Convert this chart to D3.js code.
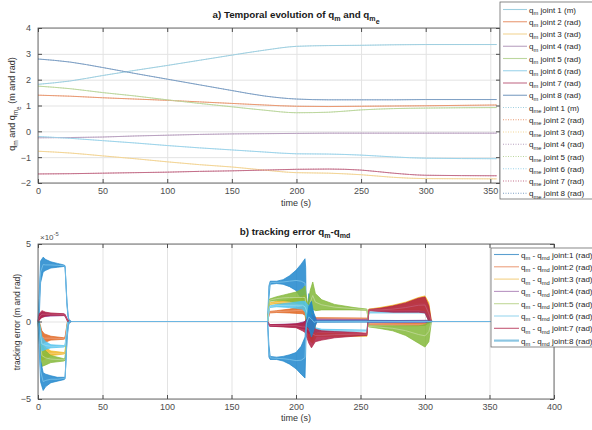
<!DOCTYPE html>
<html>
<head>
<meta charset="utf-8">
<script src="https://cdnjs.cloudflare.com/ajax/libs/d3/7.8.5/d3.min.js"></script>
<style>
  body { margin: 0; background: #fff; }
  svg { font-family: "Liberation Sans", Arial, sans-serif; }
  .tick text { fill: #4d4d4d; font-size: 9px; }
  .domain { stroke: none; }
  .tick line { stroke: #4d4d4d; }
  .grid .tick line { stroke: #e3e3e3; }
  .grid text { display: none; }
</style>
</head>
<body>
<svg width="592" height="430"></svg>
<script>
/* global d3 */

// ---- a) joint positions (q_m); q_me follows q_m closely, so it reuses them
var timeA = [0, 25, 50, 75, 100, 125, 150, 175, 200, 225, 250, 275, 300, 355];
var qm1 = [1.82, 1.95, 2.16, 2.36, 2.55, 2.75, 2.95, 3.14, 3.29, 3.32, 3.33, 3.35, 3.36, 3.36];
var qm2 = [1.4, 1.36, 1.3, 1.25, 1.2, 1.14, 1.08, 1.02, 0.97, 0.96, 0.97, 0.98, 0.99, 1.02];
var qm3 = [-0.77, -0.84, -0.95, -1.06, -1.18, -1.29, -1.38, -1.5, -1.6, -1.62, -1.68, -1.78, -1.83, -1.84];
var qm4 = [-0.25, -0.24, -0.22, -0.18, -0.15, -0.12, -0.1, -0.09, -0.08, -0.07, -0.07, -0.07, -0.07, -0.07];
var qm5 = [1.75, 1.65, 1.5, 1.37, 1.22, 1.08, 0.95, 0.82, 0.72, 0.74, 0.83, 0.88, 0.9, 0.92];
var qm6 = [-0.2, -0.27, -0.36, -0.45, -0.55, -0.64, -0.72, -0.8, -0.87, -0.88, -0.92, -0.99, -1.04, -1.06];
var qm7 = [-1.65, -1.64, -1.62, -1.6, -1.58, -1.55, -1.53, -1.5, -1.47, -1.46, -1.5, -1.62, -1.7, -1.72];
var qm8 = [2.8, 2.68, 2.47, 2.24, 2.02, 1.8, 1.58, 1.37, 1.25, 1.22, 1.22, 1.22, 1.23, 1.23];
var qmAll = [qm1, qm2, qm3, qm4, qm5, qm6, qm7, qm8];
var qmeAll = qmAll;
var legendA = ["joint 1 (m)", "joint 2 (rad)", "joint 3 (rad)", "joint 4 (rad)",
  "joint 5 (rad)", "joint 6 (rad)", "joint 7 (rad)", "joint 8 (rad)"];
var paleColors = ["#9fcfe0", "#e99a74", "#f3d596", "#b9a1c0", "#bcd79e", "#9dd4ea", "#c4708a", "#7d9fc4"];

// ---- b) tracking error envelopes [t, low, high], in units of 1e-5
var err1 = [[0, 0, 0], [0.8, 0, 1.5], [2, 2.5, 3.9], [4, 3.2, 4.15], [6, 3.3, 4.0], [10, 3.45, 3.85], [15, 3.5, 3.75],
  [20, 3.55, 3.65], [21, 3.5, 3.6], [22.5, 1.0, 1.2], [23.5, 0.1, 0.3], [24.5, -0.1, 0], [26, 0, 0], [178, 0, 0],
  [179, 1.5, 2.3], [180, 2.4, 2.6], [185, 2.45, 2.6], [190, 2.4, 2.7], [195, 2.25, 2.95], [200, 2.0, 3.3],
  [204, 1.5, 3.7], [207, 0.9, 4.05], [207.5, 0.3, 3.5], [208, 0, 0.3], [210, -0.8, 1.8], [212, -1.2, 1.0],
  [214, -0.5, 0.5], [216, 0, 0.1], [305, 0, 0.05], [306, 0, 0], [356, 0, 0]];
var err2 = [[0, 0, 0], [1, -0.5, 0], [3, -1.4, -0.6], [5, -1.35, -0.8], [10, -1.2, -0.95], [20, -1.15, -1.05],
  [21, -1.1, -1.0], [23, -0.1, 0.1], [25, 0, 0], [178, 0, 0], [179.5, 0.55, 0.65], [185, 0.58, 0.7],
  [195, 0.55, 0.8], [205, 0.5, 0.95], [207, 0.4, 1.0], [210, -1.0, 0.5], [213, -1.2, 0.3], [216, 0.15, 0.25],
  [255, 0.15, 0.22], [256.5, -0.22, -0.15], [300, -0.25, -0.12], [303, -0.1, 0], [305, 0, 0], [356, 0, 0]];
var err3 = [[0, 0, 0], [1, -1, 0], [3, -2.5, -1.3], [6, -2.4, -1.7], [10, -2.2, -1.9], [20, -2.1, -2.0],
  [21, -2.05, -1.95], [23, -0.2, 0], [25, 0, 0], [178, 0, 0], [179.5, 1.1, 1.2], [185, 1.15, 1.3],
  [195, 1.1, 1.4], [205, 1.0, 1.6], [207, 0.8, 1.7], [210, -1.2, 0.8], [213, -1.4, 0.5], [216, -0.95, -0.75],
  [255, -0.95, -0.85], [256.5, 0.75, 0.8], [265, 0.75, 0.9], [275, 0.75, 1.05], [285, 0.75, 1.25],
  [295, 0.75, 1.55], [300, 0.7, 1.65], [303, 0, 1.2], [305, 0, 0], [356, 0, 0]];
var err4 = [[0, 0, 0], [1, 0.1, 0.4], [3, 0.3, 0.6], [10, 0.35, 0.5], [20, 0.38, 0.48], [21, 0.35, 0.45],
  [23, 0, 0.05], [25, 0, 0], [178, 0, 0], [179.5, -0.3, -0.2], [200, -0.35, -0.15], [207, -0.5, 0],
  [210, -0.8, 0.5], [213, -0.6, 0.4], [216, 0.05, 0.15], [255, 0.05, 0.12], [256.5, -0.05, 0.05],
  [303, -0.05, 0.08], [305, 0, 0], [356, 0, 0]];
var err5 = [[0, 0, 0], [1, -1.2, 0], [3, -2.9, -1.5], [6, -2.8, -1.9], [10, -2.65, -2.2], [20, -2.55, -2.4],
  [21, -2.5, -2.35], [23, -0.2, 0.1], [25, 0, 0], [178, 0, 0], [179.5, 1.3, 1.45], [185, 1.35, 1.6],
  [190, 1.35, 1.7], [195, 1.3, 1.8], [200, 1.2, 1.9], [205, 1.0, 2.1], [207, 0.8, 2.3], [209, -0.5, 1.0],
  [211, 0.5, 2.0], [213, 0.8, 2.55], [215, 0.7, 1.8], [220, 0.75, 1.4], [230, 0.75, 1.1], [245, 0.75, 0.9],
  [255, 0.72, 0.8], [256.5, -0.35, -0.28], [265, -0.45, -0.28], [275, -0.6, -0.28], [285, -0.9, -0.28],
  [295, -1.4, -0.28], [300, -1.65, -0.2], [303, -1.3, 0], [305, 0, 0], [356, 0, 0]];
var err6 = [[0, 0, 0], [1, -0.8, 0], [3, -1.9, -1.0], [6, -1.8, -1.3], [10, -1.7, -1.5], [20, -1.65, -1.55],
  [21, -1.6, -1.5], [23, -0.2, 0], [25, 0, 0], [178, 0, 0], [179.5, 0.9, 1.0], [185, 0.95, 1.1],
  [195, 0.9, 1.2], [205, 0.8, 1.3], [207, 0.6, 1.3], [210, -0.5, 1.0], [212, -0.8, 0.3], [215, -0.7, -0.4],
  [220, -0.65, -0.5], [255, -0.62, -0.55], [256.5, 0.55, 0.62], [300, 0.55, 0.65], [303, 0, 0.3],
  [305, 0, 0], [356, 0, 0]];
var err7 = [[0, 0, 0], [1, 0.1, 0.5], [3, 0.25, 0.7], [6, 0.35, 0.6], [10, 0.4, 0.55], [20, 0.4, 0.5],
  [21, 0.35, 0.45], [23, 0, 0.1], [25, 0, 0], [178, 0, 0], [179.5, -0.3, -0.2], [190, -0.35, -0.2],
  [200, -0.4, -0.15], [205, -0.6, -0.1], [207, -0.7, 0], [210, -1.4, 0.3], [212, -1.7, 0.2], [215, -1.3, -0.5],
  [220, -1.2, -0.6], [230, -1.05, -0.65], [245, -0.95, -0.7], [255, -0.9, -0.75], [256.5, 0.7, 0.78],
  [265, 0.65, 0.85], [275, 0.6, 1.0], [285, 0.6, 1.2], [295, 0.6, 1.5], [300, 0.55, 1.58], [303, 0, 1.0],
  [305, 0, 0], [356, 0, 0]];
var err8 = [[0, 0, 0], [0.8, -1.5, 0], [2, -3.9, -2.5], [4, -4.45, -3.3], [6, -4.2, -3.4], [10, -3.95, -3.5],
  [15, -3.85, -3.6], [20, -3.75, -3.6], [21, -3.7, -3.6], [22.5, -1.2, -1.0], [23.5, -0.3, -0.1],
  [24.5, 0, 0.1], [26, 0, 0], [178, 0, 0], [179, -2.3, -1.5], [180, -2.45, -2.25], [185, -2.45, -2.3],
  [190, -2.55, -2.25], [195, -2.75, -2.15], [200, -3.05, -2.0], [204, -3.4, -1.6], [207, -3.65, -1.0],
  [208, -0.3, 0], [210, -0.4, 1.0], [212, -1.0, 1.3], [214, -0.5, 0.4], [216, -0.05, 0.05], [305, -0.03, 0.03],
  [306, 0, 0], [356, 0, 0]];
var errAll = [err1, err2, err3, err4, err5, err6, err7, err8];
var errColors = ["#1f86cc", "#e0651f", "#f0b41c", "#8a3a9a", "#84b83a", "#4fc3ef", "#b01f44", "#1f86cc"];
var errLegendColors = ["#5b9fd0", "#eca07e", "#f3d185", "#b995c2", "#c2d89a", "#9bd7ef", "#c45a76", "#8cc6e2"];

var svg = d3.select("svg");

function rich(sel, parts, fs) {
  var cur = 0;
  parts.forEach(function(p) {
    var off = p[1] === 1 ? fs * 0.3 : p[1] === 2 ? fs * 0.62 : p[1] === -1 ? -fs * 0.45 : 0;
    sel.append("tspan")
      .attr("dy", off - cur)
      .style("font-size", (p[1] ? fs * 0.72 : fs) + "px")
      .text(p[0]);
    cur = off;
  });
}

function frame(x, y, xTicks, yTicks) {
  var x0 = x.range()[0], x1 = x.range()[1], y0 = y.range()[0], y1 = y.range()[1];
  svg.append("g").attr("class", "grid")
    .attr("transform", "translate(0," + y0 + ")")
    .call(d3.axisBottom(x).tickValues(xTicks).tickSize(-(y0 - y1)));
  svg.append("g").attr("class", "grid")
    .attr("transform", "translate(" + x0 + ",0)")
    .call(d3.axisLeft(y).tickValues(yTicks).tickSize(-(x1 - x0)));
}

function axes(x, y, xTicks, yTicks, yFmt) {
  var x0 = x.range()[0], x1 = x.range()[1], y0 = y.range()[0], y1 = y.range()[1];
  svg.append("g").attr("transform", "translate(0," + y0 + ")")
    .call(d3.axisBottom(x).tickValues(xTicks).tickSize(-4).tickPadding(5));
  svg.append("g").attr("transform", "translate(0," + y1 + ")")
    .call(d3.axisTop(x).tickValues(xTicks).tickSize(-4).tickFormat(""));
  svg.append("g").attr("transform", "translate(" + x0 + ",0)")
    .call(d3.axisLeft(y).tickValues(yTicks).tickSize(-4).tickPadding(7).tickFormat(yFmt));
  svg.append("g").attr("transform", "translate(" + x1 + ",0)")
    .call(d3.axisRight(y).tickValues(yTicks).tickSize(-4).tickFormat(""));
  svg.append("rect")
    .attr("x", x0).attr("y", y1).attr("width", x1 - x0).attr("height", y0 - y1)
    .attr("fill", "none").attr("stroke", "#4d4d4d").attr("stroke-width", 0.8);
}

// ================= a) =================
var xA = d3.scaleLinear().domain([0, 357.5]).range([38, 500]);
var yA = d3.scaleLinear().domain([-2, 4]).range([183, 28]);
var ticksA = [0, 50, 100, 150, 200, 250, 300, 350];
var yTicksA = [-2, -1, 0, 1, 2, 3, 4];
frame(xA, yA, ticksA, yTicksA);

var lineA = d3.line()
  .x(function(d, i) { return xA(timeA[i]); })
  .y(function(d) { return yA(d); })
  .curve(d3.curveMonotoneX);

svg.append("g").selectAll("path").data(qmAll).enter().append("path")
  .attr("d", lineA).attr("fill", "none")
  .attr("stroke", function(d, i) { return paleColors[i]; })
  .attr("stroke-width", 1);
svg.append("g").selectAll("path").data(qmeAll).enter().append("path")
  .attr("d", lineA).attr("fill", "none")
  .attr("stroke", function(d, i) { return paleColors[i]; })
  .attr("stroke-opacity", 0.8)
  .attr("stroke-dasharray", "1,1.5")
  .attr("stroke-width", 0.9);

axes(xA, yA, ticksA, yTicksA, d3.format("d"));

var tA = svg.append("text").attr("x", 296).attr("y", 18).attr("text-anchor", "middle")
  .style("font-weight", "bold").style("font-size", "9.8px").attr("fill", "#1a1a1a");
rich(tA, [["a) Temporal evolution of q", 0], ["m", 1], [" and q", 0], ["m", 1], ["e", 2]], 9.8);

svg.append("text").attr("x", 296).attr("y", 206).attr("text-anchor", "middle")
  .style("font-size", "9px").attr("fill", "#333").text("time (s)");

var yLabA = svg.append("text").attr("transform", "translate(15,104) rotate(-90)")
  .attr("text-anchor", "middle").style("font-size", "9px").attr("fill", "#333");
rich(yLabA, [["q", 0], ["m", 1], [" and q", 0], ["m", 1], ["e", 2], ["  (m and rad)", 0]], 9);

// legend a)
var legA = svg.append("g");
legA.append("rect").attr("x", 500).attr("y", 2).attr("width", 100).attr("height", 197)
  .attr("fill", "#fff").attr("stroke", "#6b6b6b").attr("stroke-width", 0.8);
var legItemsA = qmAll.map(function(d, i) { return { k: "m", lab: legendA[i], c: paleColors[i], dash: null }; })
  .concat(qmeAll.map(function(d, i) { return { k: "me", lab: legendA[i], c: paleColors[i], dash: "1,1.5" }; }));
legItemsA.forEach(function(d, i) {
  var yy = 9.5 + i * 12.25;
  legA.append("line").attr("x1", 503).attr("x2", 527).attr("y1", yy).attr("y2", yy)
    .attr("stroke", d.c).attr("stroke-width", 1.1).attr("stroke-dasharray", d.dash);
  var t = legA.append("text").attr("x", 529).attr("y", yy + 3).style("font-size", "8px").attr("fill", "#262626");
  rich(t, [["q", 0], [d.k, 1], [" " + d.lab, 0]], 8);
});

// ================= b) =================
var xB = d3.scaleLinear().domain([0, 400]).range([38, 554]);
var yB = d3.scaleLinear().domain([-5, 5]).range([399, 244]);
var ticksB = [0, 50, 100, 150, 200, 250, 300, 350, 400];
var yTicksB = [-5, 0, 5];
frame(xB, yB, ticksB, yTicksB);

var areaB = d3.area()
  .x(function(d) { return xB(d[0]); })
  .y0(function(d) { return yB(d[1]); })
  .y1(function(d) { return yB(d[2]); });
var midB = d3.line()
  .x(function(d) { return xB(d[0]); })
  .y(function(d) { return yB((d[1] + d[2]) / 2); });

var gB = svg.append("g");
errAll.forEach(function(d, i) {
  gB.append("path").attr("d", areaB(d))
    .attr("fill", errColors[i]).attr("fill-opacity", 0.85)
    .attr("stroke", errColors[i]).attr("stroke-width", 0.7);
  gB.append("path").attr("d", midB(d)).attr("fill", "none")
    .attr("stroke", i === 0 || i === 7 ? "#7cc4ea" : errLegendColors[i])
    .attr("stroke-width", 0.8);
});

axes(xB, yB, ticksB, yTicksB, d3.format("d"));

var expB = svg.append("text").attr("x", 40).attr("y", 240).style("font-size", "8px").attr("fill", "#4d4d4d");
rich(expB, [["\u00d710", 0], ["-5", -1]], 8);

var tB = svg.append("text").attr("x", 295).attr("y", 235).attr("text-anchor", "middle")
  .style("font-weight", "bold").style("font-size", "9.8px").attr("fill", "#1a1a1a");
rich(tB, [["b) tracking error q", 0], ["m", 1], ["-q", 0], ["md", 1]], 9.8);

svg.append("text").attr("x", 296).attr("y", 421).attr("text-anchor", "middle")
  .style("font-size", "9px").attr("fill", "#333").text("time (s)");

svg.append("text").attr("transform", "translate(20,322) rotate(-90)")
  .attr("text-anchor", "middle").style("font-size", "8.5px").attr("fill", "#333")
  .text("tracking error (m and rad)");

// legend b)
var legB = svg.append("g");
legB.append("rect").attr("x", 491).attr("y", 248).attr("width", 110).attr("height", 99)
  .attr("fill", "#fff").attr("stroke", "#6b6b6b").attr("stroke-width", 0.8);
errAll.forEach(function(d, i) {
  var yy = 254.5 + i * 12.3;
  legB.append("line").attr("x1", 494).attr("x2", 519).attr("y1", yy).attr("y2", yy)
    .attr("stroke", errLegendColors[i]).attr("stroke-width", i === 7 ? 2.2 : 1.1);
  var t = legB.append("text").attr("x", 521).attr("y", yy + 3).style("font-size", "8px").attr("fill", "#262626");
  rich(t, [["q", 0], ["m", 1], [" - q", 0], ["md", 1], [" joint:" + (i + 1) + " (rad)", 0]], 8);
});
</script>
</body>
</html>
